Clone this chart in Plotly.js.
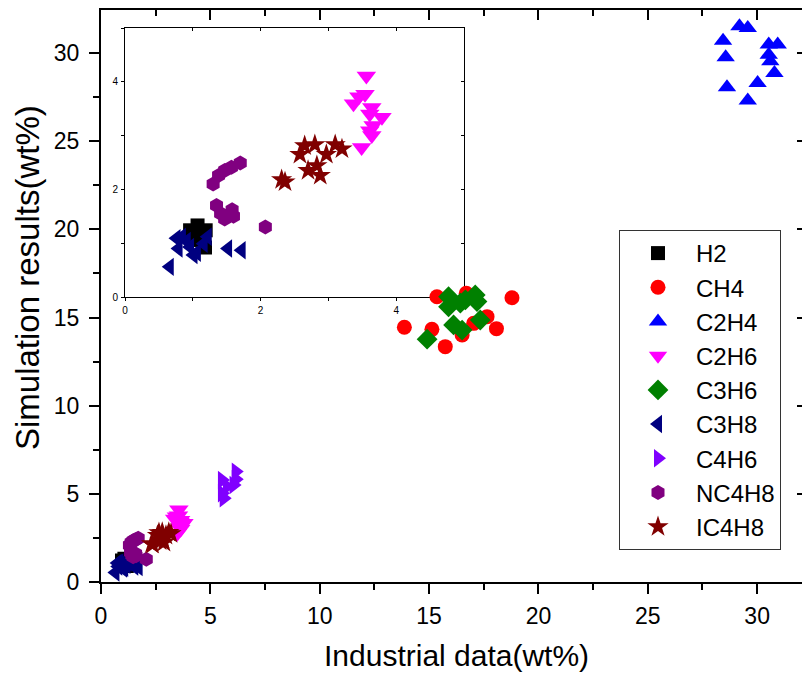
<!DOCTYPE html>
<html><head><meta charset="utf-8">
<script src="https://cdn.plot.ly/plotly-3.0.1.min.js"></script>
<style>html,body{margin:0;padding:0;background:#fff}#chart{width:802px;height:673px}</style>
</head><body><div id="chart"></div>
<script>
// ---- data (Industrial data wt%, Simulation results wt%) ----
const seriesNames = ['H2','CH4','C2H4','C2H6','C3H6','C3H8','C4H6','NC4H8','IC4H8'];

const h2X = [1.07, 1.19, 0.96, 1.18, 1.11, 1.03];
const h2Y = [1.33, 1.24, 1.24, 0.92, 1.15, 1.06];

const ch4X = [15.36, 16.70, 18.79, 13.87, 15.13, 15.74, 16.51, 17.04, 17.65, 18.08];
const ch4Y = [16.18, 16.37, 16.12, 14.45, 14.33, 13.35, 14.01, 14.67, 15.05, 14.37];

const c2h4X = [29.19, 29.57, 28.44, 28.56, 28.62, 29.57, 30.02, 30.53, 30.94, 30.53, 30.60, 30.79];
const c2h4Y = [31.50, 31.40, 30.68, 29.74, 28.04, 27.29, 28.28, 30.46, 30.46, 29.89, 29.51, 28.85];

const c2h6X = [3.56, 3.54, 3.45, 3.37, 3.64, 3.61, 3.79, 3.66, 3.61, 3.64, 3.49];
const c2h6Y = [4.11, 3.77, 3.72, 3.59, 3.52, 3.40, 3.34, 3.19, 3.09, 3.00, 2.78];

const c3h6X = [14.91, 15.89, 15.89, 16.43, 17.11, 17.19, 16.12, 16.51, 17.34, 16.66];
const c3h6Y = [13.77, 16.18, 15.61, 15.81, 16.28, 15.90, 14.58, 14.29, 14.86, 16.00];

const c3h8X = [0.66, 0.76, 0.84, 0.79, 0.91, 0.96, 1.01, 1.06, 1.16, 1.22, 1.52, 1.72];
const c3h8Y = [0.56, 1.09, 1.12, 0.90, 1.04, 0.93, 0.78, 0.82, 0.99, 1.12, 0.90, 0.87];

const c4h6X = [6.16, 6.16, 6.06, 5.53, 5.76, 5.53, 5.61];
const c4h6Y = [6.27, 5.84, 5.51, 5.80, 5.42, 5.04, 4.76];

const nc4h8X = [1.30, 1.38, 1.47, 1.57, 1.70, 1.35, 1.41, 1.47, 1.58, 1.60, 2.07];
const nc4h8Y = [2.10, 2.26, 2.35, 2.41, 2.49, 1.70, 1.55, 1.45, 1.62, 1.50, 1.30];

const ic4h8X = [2.31, 2.36, 2.58, 2.65, 2.80, 2.97, 3.10, 3.20, 2.70, 2.83, 2.88];
const ic4h8Y = [2.18, 2.14, 2.65, 2.81, 2.83, 2.65, 2.83, 2.75, 2.35, 2.44, 2.26];

const mainXTicks = [0, 5, 10, 15, 20, 25, 30];
const mainYTicks = [0, 5, 10, 15, 20, 25, 30];
const insetTicks = [0, 2, 4];

// ---- styling ----
const xs = [h2X, ch4X, c2h4X, c2h6X, c3h6X, c3h8X, c4h6X, nc4h8X, ic4h8X];
const ys = [h2Y, ch4Y, c2h4Y, c2h6Y, c3h6Y, c3h8Y, c4h6Y, nc4h8Y, ic4h8Y];
const colors = ['#000000','#ff0000','#0000ff','#ff00ff','#008000','#000080','#8000ff','#800080','#800000'];
const symbols = ['square','circle','triangle-up','triangle-down','diamond','triangle-left','triangle-right','hexagon','star'];
const sizes = [14, 15, 16, 17, 16, 16, 16, 15, 16];

const FONT = 'Liberation Sans, Arial, sans-serif';
const data = [];
// inset traces (drawn first, below main)
seriesNames.forEach((n, i) => {
  data.push({type:'scatter', mode:'markers', x: xs[i], y: ys[i], xaxis:'x', yaxis:'y',
    showlegend:false, hoverinfo:'skip',
    marker:{symbol: symbols[i], color: colors[i], size: sizes[i], line:{width:0}}});
});
// empty helper trace for mirrored inside-tick axes of the inset
data.push({type:'scatter', mode:'markers', x:[], y:[], xaxis:'x3', yaxis:'y3', showlegend:false});
// main traces
seriesNames.forEach((n, i) => {
  data.push({type:'scatter', mode:'markers', name: n, x: xs[i], y: ys[i], xaxis:'x2', yaxis:'y2',
    marker:{symbol: symbols[i], color: colors[i], size: sizes[i], line:{width:0}}});
});
data.push({type:'scatter', mode:'markers', x:[], y:[], xaxis:'x4', yaxis:'y4', showlegend:false});

const W = 802, H = 673;
const mainXDom = [101/W, 1];
const mainYDom = [(H-582.3)/H, (H-10)/H];
const insXDom = [125/W, 464/W];
const insYDom = [(H-297)/H, (H-28)/H];
const mainXRange = [0, 32.05];
const mainYRange = [0, 32.42];

const baseAx = {showgrid:false, zeroline:false, showline:true, linecolor:'#000', color:'#000', autorange:false};

const layout = {
  width: W, height: H, autosize:false,
  margin:{l:0, r:0, t:0, b:0, pad:0},
  paper_bgcolor:'#ffffff', plot_bgcolor:'rgba(0,0,0,0)',
  font:{family: FONT, color:'#000'},
  showlegend:true,
  // inset
  xaxis: Object.assign({}, baseAx, {domain: insXDom, anchor:'y', range:[0,5], linewidth:1,
    ticks:'outside', ticklen:3, tickwidth:1, tickvals: insetTicks, ticktext: insetTicks.map(String),
    tickfont:{size:10, family: FONT}, ticklabelstandoff:1,
    minor:{ticks:'outside', ticklen:3, tickwidth:1, dtick:1, tick0:0, tickcolor:'#000'}}),
  yaxis: Object.assign({}, baseAx, {domain: insYDom, anchor:'x', range:[0,5], linewidth:1,
    ticks:'outside', ticklen:3, tickwidth:1, tickvals: insetTicks, ticktext: insetTicks.map(String),
    tickfont:{size:10, family: FONT}, ticklabelstandoff:1,
    minor:{ticks:'outside', ticklen:3, tickwidth:1, dtick:1, tick0:0, tickcolor:'#000'}}),
  xaxis3: Object.assign({}, baseAx, {overlaying:'x', side:'top', anchor:'y', range:[0,5], linewidth:1,
    ticks:'inside', ticklen:3, tickwidth:1, dtick:1, tick0:0, showticklabels:false}),
  yaxis3: Object.assign({}, baseAx, {overlaying:'y', side:'right', anchor:'x', range:[0,5], linewidth:1,
    ticks:'inside', ticklen:3, tickwidth:1, dtick:1, tick0:0, showticklabels:false}),
  // main
  xaxis2: Object.assign({}, baseAx, {domain: mainXDom, anchor:'y2', range: mainXRange, linewidth:2,
    ticks:'outside', ticklen:10, tickwidth:2, tickvals: mainXTicks, ticktext: mainXTicks.map(String),
    tickfont:{size:23, family: FONT}, ticklabelstandoff:2,
    minor:{ticks:'outside', ticklen:6, tickwidth:2, dtick:2.5, tick0:0, tickcolor:'#000'}}),
  yaxis2: Object.assign({}, baseAx, {domain: mainYDom, anchor:'x2', range: mainYRange, linewidth:2,
    ticks:'outside', ticklen:10, tickwidth:2, tickvals: mainYTicks, ticktext: mainYTicks.map(String),
    tickfont:{size:23, family: FONT}, ticklabelstandoff:5,
    minor:{ticks:'outside', ticklen:6, tickwidth:2, dtick:2.5, tick0:0, tickcolor:'#000'}}),
  xaxis4: Object.assign({}, baseAx, {overlaying:'x2', side:'top', anchor:'y2', range: mainXRange, linewidth:2,
    ticks:'inside', ticklen:10, tickwidth:2, dtick:5, tick0:0, showticklabels:false,
    minor:{ticks:'inside', ticklen:6, tickwidth:2, dtick:2.5, tick0:0, tickcolor:'#000'}}),
  yaxis4: Object.assign({}, baseAx, {overlaying:'y2', side:'right', anchor:'x2', range: mainYRange, linewidth:2,
    ticks:'inside', ticklen:5, tickwidth:2, dtick:5, tick0:0, showticklabels:false}),
  legend:{x: 619/W, y: 1 - 230/H, xanchor:'left', yanchor:'top', bgcolor:'#ffffff',
    bordercolor:'#333', borderwidth:1, font:{size:24, family: FONT, color:'#000'},
    itemwidth:66, itemsizing:'trace', tracegroupgap:0},
  annotations:[
    {text:'Industrial data(wt%)', xref:'paper', yref:'paper', x: 456/W, y: (H-655)/H,
     xanchor:'center', yanchor:'middle', showarrow:false, font:{size:30, family: FONT, color:'#000'}},
    {text:'Simulation results(wt%)', xref:'paper', yref:'paper', x: 27/W, y: (H-278)/H,
     xanchor:'center', yanchor:'middle', textangle:-90, showarrow:false, font:{size:33, family: FONT, color:'#000'}}
  ]
};

Plotly.newPlot('chart', data, layout, {displayModeBar:false, staticPlot:true});
</script>
</body></html>
